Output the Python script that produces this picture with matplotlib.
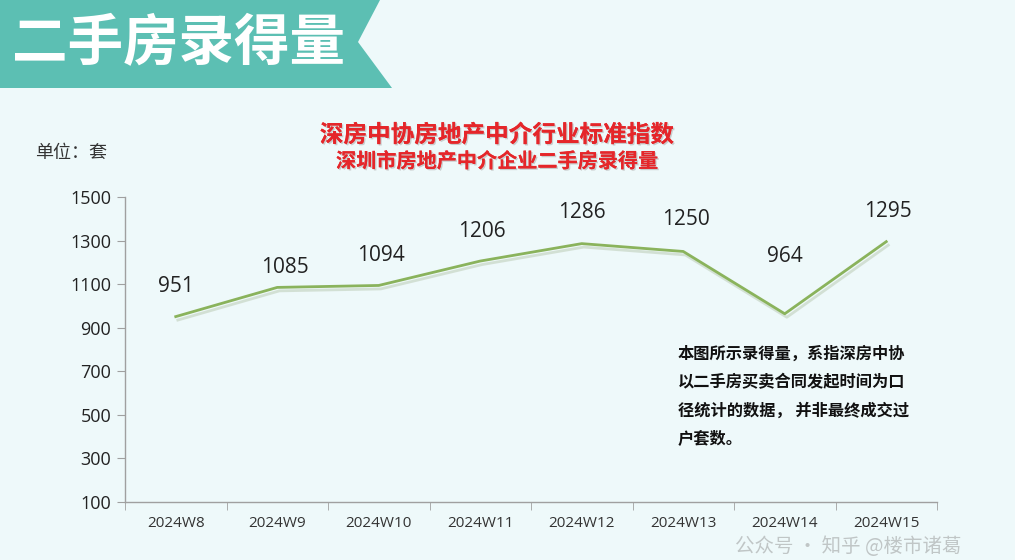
import matplotlib.pyplot as plt
import matplotlib.patheffects as pe
from matplotlib.patches import Polygon

plt.rcParams['font.family'] = ['Noto Sans CJK SC', 'DejaVu Sans']

weeks = ['2024W8', '2024W9', '2024W10', '2024W11', '2024W12', '2024W13', '2024W14', '2024W15']
volume = [951, 1085, 1094, 1206, 1286, 1250, 964, 1295]
y_ticks = [100, 300, 500, 700, 900, 1100, 1300, 1500]

# label offsets in pixels (dx, dy)
label_offsets = [(0, 30), (8, 20), (2, 30), (2, 30), (0, 31), (3, 32), (0, 57), (2, 30)]

bg = '#EEF9FA'
teal = '#5CBFB3'
red = '#E5262A'
line_green = '#8AB35C'

fig = plt.figure(figsize=(10.15, 5.6), dpi=100)
fig.patch.set_facecolor(bg)

W, H = 1015, 560

# banner
banner = Polygon([(0, 1), (380 / W, 1), (358 / W, 1 - 42 / H), (392 / W, 1 - 88 / H), (0, 1 - 88 / H)],
                 closed=True, transform=fig.transFigure, facecolor=teal, edgecolor='none')
fig.patches.append(banner)
fig.text(12 / W, 1 - 44 / H, '二手房录得量', color='white', fontsize=40, fontweight='bold',
         ha='left', va='center')

# titles
shadow = [pe.withSimplePatchShadow(offset=(1, -1), shadow_rgbFace='#B0B0B0', alpha=0.6), pe.Normal()]
fig.text(497 / W, 1 - 135 / H, '深房中协房地产中介行业标准指数', color=red, fontsize=17,
         fontweight='heavy', ha='center', va='center', path_effects=shadow)
fig.text(497 / W, 1 - 161 / H, '深圳市房地产中介企业二手房录得量', color=red, fontsize=14.5,
         fontweight='heavy', ha='center', va='center', path_effects=shadow)

fig.text(35 / W, 1 - 153 / H, '单位：套', color='#333333', fontsize=13, ha='left', va='center')

ax = fig.add_axes([125 / W, 1 - 502 / H, (937 - 125) / W, (502 - 197) / H])
ax.set_facecolor('none')

x = list(range(len(weeks)))
line_shadow = [pe.SimpleLineShadow(offset=(1.5, -2.5), shadow_color='#B8C8B0', alpha=0.5), pe.Normal()]
ax.plot(x, volume, color=line_green, linewidth=2, path_effects=line_shadow)

for i, v in enumerate(volume):
    dx, dy = label_offsets[i]
    ax.annotate(str(v), (i, v), xytext=(dx * 0.72, dy * 0.72), textcoords='offset points',
                ha='center', va='center', fontsize=15, color='#222222',
                family=['Open Sans', 'DejaVu Sans'])

ax.set_xlim(-0.5, len(weeks) - 0.5)
ax.set_ylim(100, 1500)
ax.set_yticks(y_ticks)
ax.set_yticklabels([str(t) for t in y_ticks], fontsize=13, color='#222222',
                   family=['Open Sans', 'DejaVu Sans'])
ax.set_xticks(x)
ax.set_xticklabels(weeks, fontsize=11, color='#333333', family=['Open Sans', 'DejaVu Sans'])
ax.set_xticks([i - 0.5 for i in range(len(weeks) + 1)], minor=True)
ax.tick_params(axis='x', which='major', length=0, pad=10)
ax.tick_params(axis='x', which='minor', length=6, color='#A0A0A0', direction='out')
ax.tick_params(axis='y', length=6, color='#A0A0A0', pad=4)

for s in ['top', 'right']:
    ax.spines[s].set_visible(False)
for s in ['left', 'bottom']:
    ax.spines[s].set_color('#A0A0A0')
    ax.spines[s].set_linewidth(1)

note = '本图所示录得量，系指深房中协\n以二手房买卖合同发起时间为口\n径统计的数据， 并非最终成交过\n户套数。'
fig.text(678 / W, 1 - 345 / H, note, fontsize=11.7, fontweight='bold', color='#111111',
         ha='left', va='top', linespacing=1.92)

# watermark
fig.text(735 / W, 1 - 546 / H, '公众号 · 知乎 @楼市诸葛', fontsize=14, color='#888888',
         alpha=0.45, ha='left', va='center')

fig.savefig('out.png', dpi=100, facecolor=bg)
